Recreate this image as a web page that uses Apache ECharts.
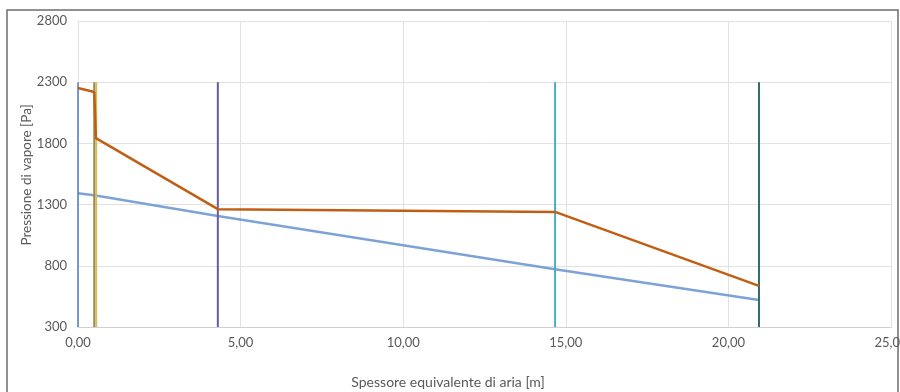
<!DOCTYPE html>
<html><head><meta charset="utf-8">
<script src="https://cdn.jsdelivr.net/npm/echarts@6/dist/echarts.min.js"></script>
<style>html,body{margin:0;padding:0;background:#fff}#c{width:900px;height:392px}</style>
</head><body><div id="c"></div>
<script>
// interface positions (equivalent air thickness, m)
const interfaces = [0, 0.50, 0.56, 4.30, 14.67, 20.94];
const interfaceColors = ['#4F7BC0', '#9A8650', '#D2BE5A', '#6A5A9E', '#4BACC6', '#2E6B6B'];
const interfaceWidths = [1.5, 2, 2, 2, 2, 2];
const interfaceBottom = 300;
const interfaceTop = 2300;
// saturation pressure (orange) and partial pressure (blue)
const satX = [0, 0.50, 0.55, 4.30, 14.67, 20.94];
const satP = [2252, 2220, 1843, 1263, 1240, 636];
const vapX = [0, 0.50, 0.56, 4.30, 14.67, 20.94];
const vapP = [1392, 1376, 1372, 1206, 772, 521];
const yTicks = [300, 800, 1300, 1800, 2300, 2800];
const xTicks = [0, 5, 10, 15, 20, 25];

const chart = echarts.init(document.getElementById('c'));
const font = 'Lato, "Open Sans", sans-serif';
const series = [];
interfaces.forEach((x, i) => {
  series.push({
    type: 'line', symbol: 'none', z: 3,
    data: [[x, interfaceBottom], [x, interfaceTop]],
    lineStyle: { color: interfaceColors[i], width: interfaceWidths[i] }
  });
});
series.push({
  type: 'line', symbol: 'none', z: 2,
  data: vapX.map((x, i) => [x, vapP[i]]),
  lineStyle: { color: '#7DA3D4', width: 2.5 }
});
series.push({
  type: 'line', symbol: 'none', z: 4,
  data: satX.map((x, i) => [x, satP[i]]),
  lineStyle: { color: '#C05F14', width: 2.5 }
});

chart.setOption({
  animation: false,
  backgroundColor: '#ffffff',
  grid: { left: 78, right: 9, top: 21, bottom: 65, containLabel: false, outerBoundsMode: 'none' },
  xAxis: {
    type: 'value', min: xTicks[0], max: xTicks[xTicks.length - 1], interval: 5,
    axisLine: { show: true, lineStyle: { color: '#D0D0D0' } },
    axisTick: { show: false },
    splitLine: { show: true, lineStyle: { color: '#E2E2E2' } },
    axisLabel: { color: '#595959', fontFamily: font, fontSize: 13, margin: 9,
      hideOverlap: false,
      formatter: v => v.toFixed(2).replace('.', ',') }
  },
  yAxis: {
    type: 'value', min: yTicks[0], max: yTicks[yTicks.length - 1], interval: 500,
    axisLine: { show: false }, axisTick: { show: false },
    splitLine: { show: true, lineStyle: { color: '#E2E2E2' } },
    axisLabel: { color: '#595959', fontFamily: font, fontSize: 13, margin: 11,
      formatter: v => String(v) }
  },
  graphic: [
    { type: 'rect', shape: { x: 7, y: 10, width: 891, height: 400 }, silent: true,
      style: { fill: 'none', stroke: '#6E6E6E', lineWidth: 1.5 }, z: 0 },
    { type: 'text', x: 448, y: 382, style: { text: 'Spessore equivalente di aria [m]',
      font: '14px ' + font, fill: '#595959', textAlign: 'center', textVerticalAlign: 'middle' } },
    { type: 'text', x: 27, y: 175, rotation: Math.PI / 2, style: { text: 'Pressione di vapore [Pa]',
      font: '13.5px ' + font, fill: '#595959', textAlign: 'center', textVerticalAlign: 'middle' } }
  ],
  series: series
});
</script></body></html>
